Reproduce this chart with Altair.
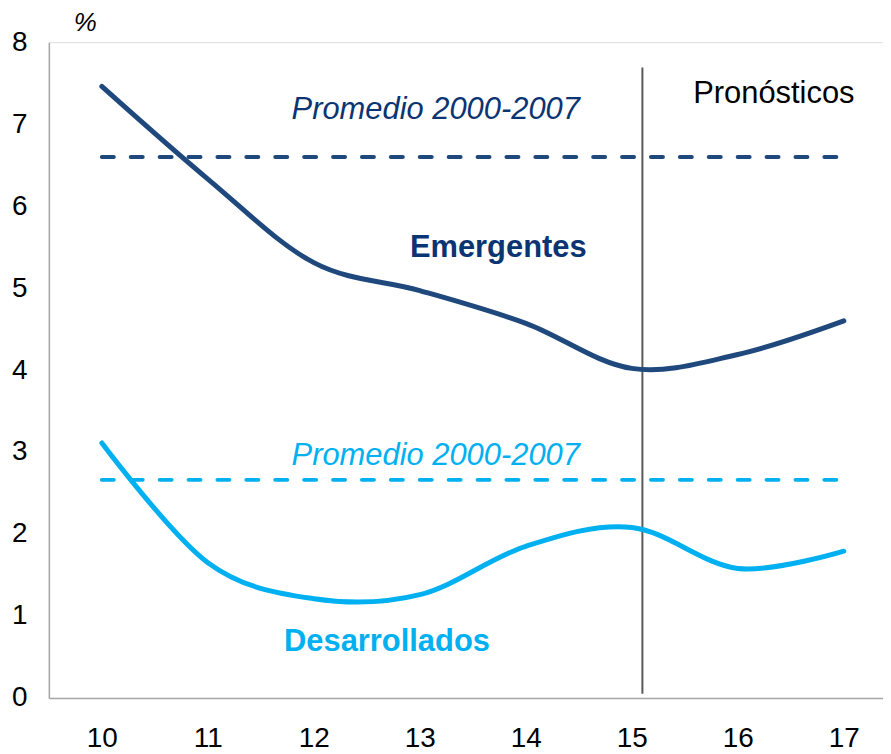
import altair as alt
import pandas as pd

years = [10, 11, 12, 13, 14, 15, 16, 17]
emergentes = [7.46, 6.33, 5.31, 4.97, 4.57, 4.02, 4.19, 4.60]
desarrollados = [3.11, 1.65, 1.21, 1.26, 1.85, 2.08, 1.58, 1.79]
series_names = ["Emergentes", "Desarrollados"]
series_colors = ["#1F497D", "#00B0F0"]
text_colors = ["#0B3473", "#00B0F0"]
avg_values = [6.60, 2.66]
forecast_x = 15.1

rows = []
for s, vals in zip(series_names, [emergentes, desarrollados]):
    for x, v in zip(years, vals):
        rows.append({"year": x, "value": v, "serie": s})
df = pd.DataFrame(rows)

xscale = alt.Scale(domain=[9.5, 17.37], nice=False, zero=False)
yscale = alt.Scale(domain=[0, 8], nice=False)
color = alt.Color("serie:N", scale=alt.Scale(domain=series_names, range=series_colors), legend=None)

FONT = "Liberation Sans"

lines = alt.Chart(df).mark_line(strokeWidth=5, interpolate="cardinal", strokeCap="round").encode(
    x=alt.X("year:Q", scale=xscale,
            axis=alt.Axis(values=years, format="d", title=None, ticks=False, grid=False,
                          domainColor="#A6A6A6", domainWidth=1.5, labelFontSize=28,
                          labelPadding=27, labelColor="#000000", labelFont=FONT)),
    y=alt.Y("value:Q", scale=yscale,
            axis=alt.Axis(values=list(range(0, 9)), format="d", title="%", ticks=False, grid=False,
                          domainColor="#A6A6A6", domainWidth=1.5, labelFontSize=28,
                          labelPadding=22, labelColor="#000000", labelFont=FONT,
                          titleAngle=0, titleX=36, titleY=-20, titleFontSize=26,
                          titleFontStyle="italic", titleFontWeight="normal",
                          titleAlign="center", titleBaseline="middle", titleFont=FONT)),
    color=color,
)

avg_df = pd.DataFrame({"y": avg_values, "serie": series_names, "x0": [10, 10], "x1": [16.95, 16.95]})
avg = alt.Chart(avg_df).mark_rule(strokeWidth=4, strokeDash=[12, 17], strokeCap="round").encode(
    x=alt.X("x0:Q", scale=xscale), x2="x1:Q", y=alt.Y("y:Q", scale=yscale), color=color
)

vline_df = pd.DataFrame({"x": [forecast_x], "y0": [0.05], "y1": [7.69]})
vline = alt.Chart(vline_df).mark_rule(strokeWidth=2, color="#595959").encode(
    x=alt.X("x:Q", scale=xscale), y=alt.Y("y0:Q", scale=yscale), y2="y1:Q"
)

labels_df = pd.DataFrame({
    "x": [13.15, 13.15, 13.74, 12.69, 16.34],
    "y": [7.17, 2.95, 5.49, 0.68, 7.37],
    "text": ["Promedio 2000-2007", "Promedio 2000-2007", "Emergentes", "Desarrollados", "Pronósticos"],
    "col": [text_colors[0], text_colors[1], text_colors[0], text_colors[1], "#000000"],
    "style": ["italic", "italic", "normal", "normal", "normal"],
    "weight": ["normal", "normal", "bold", "bold", "normal"],
})

def txt(i):
    r = labels_df.iloc[[i]]
    return alt.Chart(r).mark_text(
        fontSize=31, font=FONT, fontStyle=r["style"].iloc[0], fontWeight=r["weight"].iloc[0],
        color=r["col"].iloc[0], align="center", baseline="middle"
    ).encode(x=alt.X("x:Q", scale=xscale), y=alt.Y("y:Q", scale=yscale), text="text:N")

texts = [txt(i) for i in range(len(labels_df))]

chart = alt.layer(avg, vline, lines, *texts).properties(
    width=837, height=658,
    autosize=alt.AutoSizeParams(type="none"),
    padding={"left": 41, "top": 33, "right": 0, "bottom": 54},
).configure_view(stroke=None).configure(background="white")

chart.save("out.html", embed_options={"renderer": "svg", "actions": False})
